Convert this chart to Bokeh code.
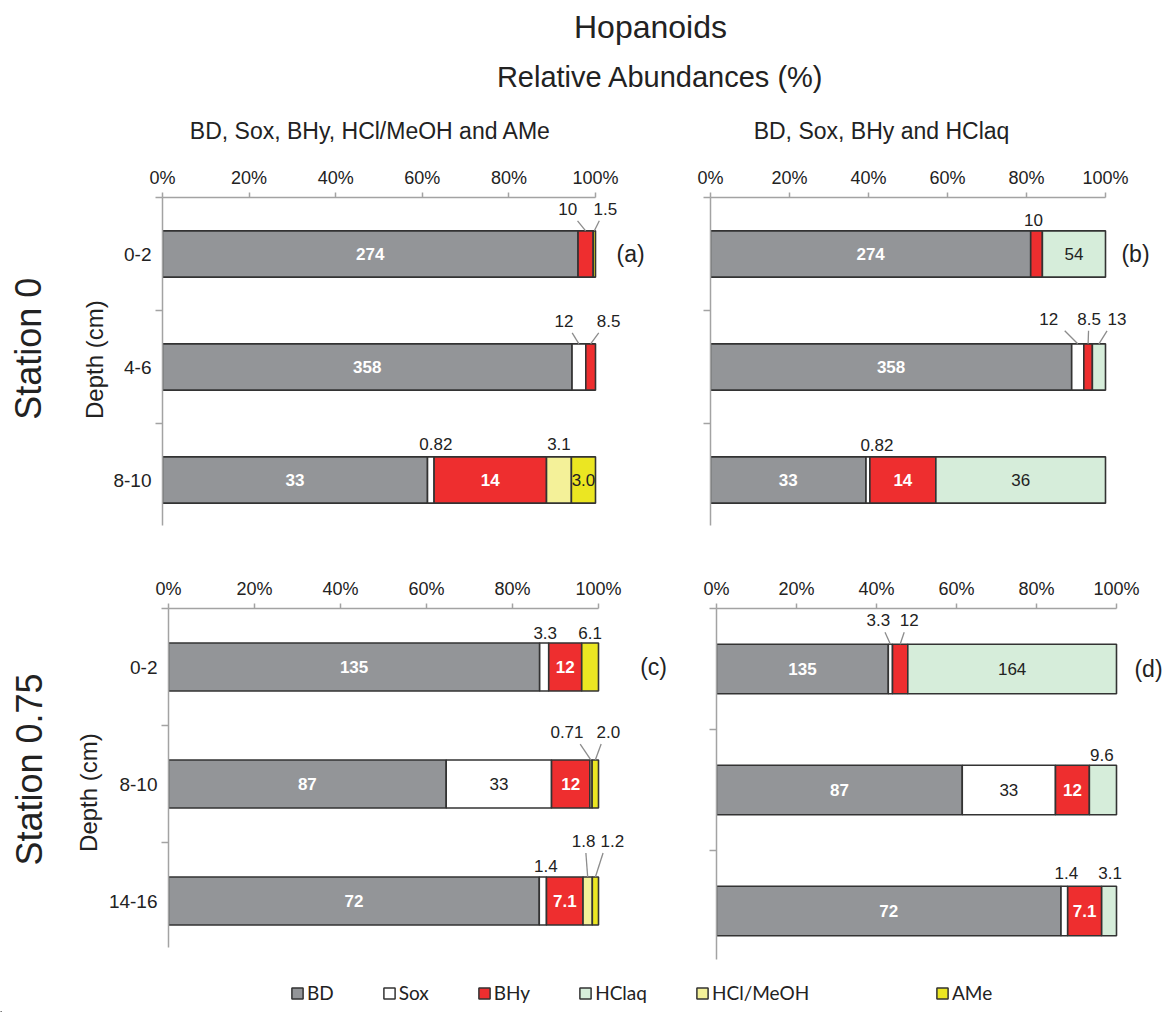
import math

from bokeh.plotting import figure
from bokeh.models import (ColumnDataSource, Range1d, FixedTicker, Label,
                          Legend, LegendItem)
from bokeh.layouts import column, row
from bokeh.embed import file_html
from bokeh.resources import INLINE
from bokeh.core.properties import value

# ---------------- data ----------------
depth_st0 = ["0-2", "4-6", "8-10"]
depth_st075 = ["0-2", "8-10", "14-16"]

series_meoh = ["BD", "Sox", "BHy", "HCl/MeOH", "AMe"]
series_aq = ["BD", "Sox", "BHy", "HClaq"]

# Station 0, BD / Sox / BHy / HCl-MeOH / AMe
a_bd = [274, 358, 33]
a_sox = [0, 12, 0.82]
a_bhy = [10, 8.5, 14]
a_hclmeoh = [0, 0, 3.1]
a_ame = [1.5, 0, 3.0]

# Station 0, BD / Sox / BHy / HClaq
b_bd = [274, 358, 33]
b_sox = [0, 12, 0.82]
b_bhy = [10, 8.5, 14]
b_hclaq = [54, 13, 36]

# Station 0.75, BD / Sox / BHy / HCl-MeOH / AMe
c_bd = [135, 87, 72]
c_sox = [3.3, 33, 1.4]
c_bhy = [12, 12, 7.1]
c_hclmeoh = [0, 0.71, 1.8]
c_ame = [6.1, 2.0, 1.2]

# Station 0.75, BD / Sox / BHy / HClaq
d_bd = [135, 87, 72]
d_sox = [3.3, 33, 1.4]
d_bhy = [12, 12, 7.1]
d_hclaq = [164, 9.6, 3.1]

pct_ticks = [0, 20, 40, 60, 80, 100]
pct_labels = ["0%", "20%", "40%", "60%", "80%", "100%"]

legend_order = ["BD", "Sox", "BHy", "HClaq", "HCl/MeOH", "AMe"]

# ---------------- style ----------------
COLORS = {"BD": "#939598", "Sox": "#ffffff", "BHy": "#ee2e2f",
          "HClaq": "#d6edda", "HCl/MeOH": "#f4f199", "AMe": "#ebe622"}
WHITE_TEXT = {"BD", "BHy"}
EDGE = "#333333"
AXIS = "#a3a3a3"
INK = "#222222"
FONT = "Liberation Sans"
BAR_H = 0.41

# small segments labelled above the bar: (dx px, rise px, leader line)
OUT_A = {(0, "BHy"): (-18, 22, True), (0, "AMe"): (11, 22, True),
         (1, "Sox"): (-15, 23, True), (1, "BHy"): (18, 23, True),
         (2, "Sox"): (5, 13, False), (2, "HCl/MeOH"): (0, 13, False)}
OUT_B = {(0, "BHy"): (-3, 11, False),
         (1, "Sox"): (-29, 25, True), (1, "BHy"): (1, 25, True), (1, "HClaq"): (18, 25, True),
         (2, "Sox"): (9, 12, False)}
OUT_C = {(0, "Sox"): (1, 10, False), (0, "AMe"): (0, 10, False),
         (1, "HCl/MeOH"): (-24, 28, True), (1, "AMe"): (13, 28, True),
         (2, "Sox"): (3, 11, False), (2, "HCl/MeOH"): (-4, 36, True), (2, "AMe"): (17, 36, True)}
OUT_D = {(0, "Sox"): (-12, 24, True), (0, "BHy"): (9, 24, True),
         (1, "HClaq"): (-1, 10, False),
         (2, "Sox"): (2, 13, False), (2, "HClaq"): (1, 13, False)}


def fmt(v):
    return str(v)


def blank(width, height):
    f = figure(width=width, height=height, x_range=Range1d(0, width),
               y_range=Range1d(height, 0), x_axis_location=None, y_axis_location=None,
               min_border=0, output_backend="svg", toolbar_location=None)
    f.outline_line_color = None
    f.grid.visible = False
    return f


def build_panel(depths, series, values, outside, span100, fw, fh, bl, bt, bb,
                tag, tag_x, show_depths):
    n = len(depths)
    x_end = fw * 100.0 / span100
    ppx = span100 / 100.0
    ppy = fh / float(n)
    p = figure(frame_width=fw, frame_height=fh,
               x_range=Range1d(0, x_end), y_range=Range1d(n, 0),
               x_axis_location="above", output_backend="svg",
               toolbar_location=None, min_border_left=bl, min_border_right=5,
               min_border_top=bt, min_border_bottom=bb)
    p.outline_line_color = None
    p.grid.visible = False
    p.background_fill_color = None
    p.border_fill_color = None

    seg = dict(left=[], right=[], y=[], color=[])
    ins = dict(x=[], y=[], text=[], color=[], style=[])
    out = dict(x=[], y=[], text=[])
    lead = dict(x0=[], y0=[], x1=[], y1=[])
    for i in range(n):
        vals = [values[s][i] for s in series]
        total = float(sum(vals))
        cum = 0.0
        yc = i + 0.5
        top = yc - BAR_H / 2.0
        for s, v in zip(series, vals):
            if v <= 0:
                continue
            left = cum / total * 100.0
            cum += v
            right = cum / total * 100.0
            mid = (left + right) / 2.0
            seg["left"].append(left)
            seg["right"].append(right)
            seg["y"].append(yc)
            seg["color"].append(COLORS[s])
            if (i, s) in outside:
                dx, rise, has_lead = outside[(i, s)]
                lx = mid + dx / ppx
                ly = top - rise / ppy
                out["x"].append(lx)
                out["y"].append(ly)
                out["text"].append(fmt(v))
                if has_lead:
                    lead["x0"].append(mid)
                    lead["y0"].append(top)
                    lead["x1"].append(lx + 0.55 * (mid - lx))
                    lead["y1"].append(ly + 12.0 / ppy)
            else:
                ins["x"].append(mid)
                ins["y"].append(yc)
                ins["text"].append(fmt(v))
                ins["color"].append("#ffffff" if s in WHITE_TEXT else INK)
                ins["style"].append("bold" if s in WHITE_TEXT else "normal")

    p.hbar(y="y", left="left", right="right", height=BAR_H, source=ColumnDataSource(seg),
           fill_color="color", line_color=EDGE, line_width=1.6)
    p.segment(x0="x0", y0="y0", x1="x1", y1="y1", source=ColumnDataSource(lead),
              line_color="#8c8c8c", line_width=1.3)
    p.text(x="x", y="y", text="text", source=ColumnDataSource(ins),
           text_color="color", text_font_style="style", text_font=value(FONT),
           text_font_size="17px", text_align="center", text_baseline="middle")
    p.text(x="x", y="y", text="text", source=ColumnDataSource(out),
           text_color=INK, text_font=value(FONT), text_font_size="17px",
           text_align="center", text_baseline="middle")
    p.text(x=[tag_x], y=[0.5], text=[tag], text_color=INK, text_font=value(FONT),
           text_font_size="23px", text_align="center", text_baseline="middle")

    xa = p.xaxis[0]
    xa.ticker = FixedTicker(ticks=pct_ticks)
    xa.major_label_overrides = dict(zip(pct_ticks, pct_labels))
    xa.bounds = (0, 100)
    xa.axis_line_color = AXIS
    xa.axis_line_width = 1.5
    xa.major_tick_line_color = AXIS
    xa.major_tick_line_width = 1.5
    xa.major_tick_out = 5
    xa.major_tick_in = 0
    xa.minor_tick_out = 0
    xa.major_label_standoff = 5
    xa.major_label_text_font = FONT
    xa.major_label_text_font_size = "18px"
    xa.major_label_text_color = INK

    ya = p.yaxis[0]
    centers = [i + 0.5 for i in range(n)]
    ya.ticker = FixedTicker(ticks=centers, minor_ticks=list(range(n)))
    if show_depths:
        ya.major_label_overrides = {c: d for c, d in zip(centers, depths)}
    else:
        ya.major_label_overrides = {c: "" for c in centers}
    ya.bounds = (0, n - 0.1)
    ya.axis_line_color = AXIS
    ya.axis_line_width = 1.5
    ya.major_tick_out = 0
    ya.major_tick_in = 0
    ya.minor_tick_out = 7
    ya.minor_tick_in = 0
    ya.minor_tick_line_color = AXIS
    ya.minor_tick_line_width = 1.5
    ya.major_label_standoff = 4
    ya.major_label_text_font = FONT
    ya.major_label_text_font_size = "19px"
    ya.major_label_text_color = INK
    return p


def side_strip(width, height, station, st_xy, depth_xy):
    f = blank(width, height)
    f.add_layout(Label(x=st_xy[0], y=st_xy[1], text=station, angle=math.pi / 2,
                       text_align="center", text_baseline="middle", text_font=FONT,
                       text_font_size="36px", text_color=INK))
    f.add_layout(Label(x=depth_xy[0], y=depth_xy[1], text="Depth (cm)", angle=math.pi / 2,
                       text_align="center", text_baseline="middle", text_font=FONT,
                       text_font_size="24px", text_color=INK))
    return f


vals_a = {"BD": a_bd, "Sox": a_sox, "BHy": a_bhy, "HCl/MeOH": a_hclmeoh, "AMe": a_ame}
vals_b = {"BD": b_bd, "Sox": b_sox, "BHy": b_bhy, "HClaq": b_hclaq}
vals_c = {"BD": c_bd, "Sox": c_sox, "BHy": c_bhy, "HCl/MeOH": c_hclmeoh, "AMe": c_ame}
vals_d = {"BD": d_bd, "Sox": d_sox, "BHy": d_bhy, "HClaq": d_hclaq}

pa = build_panel(depth_st0, series_meoh, vals_a, OUT_A, 433, 523, 339, 52, 37, 24, "(a)", 108.1, True)
pb = build_panel(depth_st0, series_aq, vals_b, OUT_B, 395, 461, 339, 20, 34, 27, "(b)", 107.6, False)
pc = build_panel(depth_st075, series_meoh, vals_c, OUT_C, 430, 520, 351, 60, 48, 11, "(c)", 112.8, True)
pd_ = build_panel(depth_st075, series_aq, vals_d, OUT_D, 400, 458, 363, 23, 41, 6, "(d)", 108.0, False)

side_top = side_strip(110, 400, "Station 0", (28, 180), (94, 193))
side_bot = side_strip(105, 410, "Station 0.75", (29, 188), (88, 215))

# ---------------- header ----------------
head = blank(1176, 160)
for txt, x, y, size in [("Hopanoids", 650, 26, "32px"),
                        ("Relative Abundances (%)", 660, 76, "29px"),
                        ("BD, Sox, BHy, HCl/MeOH and AMe", 370, 130, "23px"),
                        ("BD, Sox, BHy and HClaq", 881, 130, "23px")]:
    head.add_layout(Label(x=x, y=y, text=txt, text_align="center", text_baseline="middle",
                          text_font=FONT, text_font_size=size, text_color=INK))

# ---------------- legend strip ----------------
leg = figure(width=1176, height=42, x_range=Range1d(0, 1176), y_range=Range1d(0, 42),
             x_axis_location=None, y_axis_location=None, min_border=0,
             output_backend="svg", toolbar_location=None)
leg.outline_line_color = None
leg.grid.visible = False
items = []
for s in legend_order:
    # swatch-only renderer, kept below the visible strip
    r = leg.hbar(y=[-100], left=[0], right=[1], height=1, fill_color=COLORS[s],
                 line_color=EDGE, line_width=1.5)
    items.append(LegendItem(label=s, renderers=[r]))


def make_legend(its, loc):
    return Legend(items=its, orientation="horizontal", location=loc,
                  glyph_width=14, glyph_height=14, label_standoff=3, spacing=48,
                  padding=0, margin=0, border_line_color=None,
                  background_fill_alpha=0, label_text_font="Lato",
                  label_text_font_size="19px", label_text_color=INK)


leg.add_layout(make_legend(items[:5], (290, 8)))
leg.add_layout(make_legend(items[5:], (935, 8)))

layout = column(head, row(side_top, pa, pb), row(side_bot, pc, pd_), leg)
open("out.html", "w").write(file_html(layout, INLINE, "Hopanoids"))
